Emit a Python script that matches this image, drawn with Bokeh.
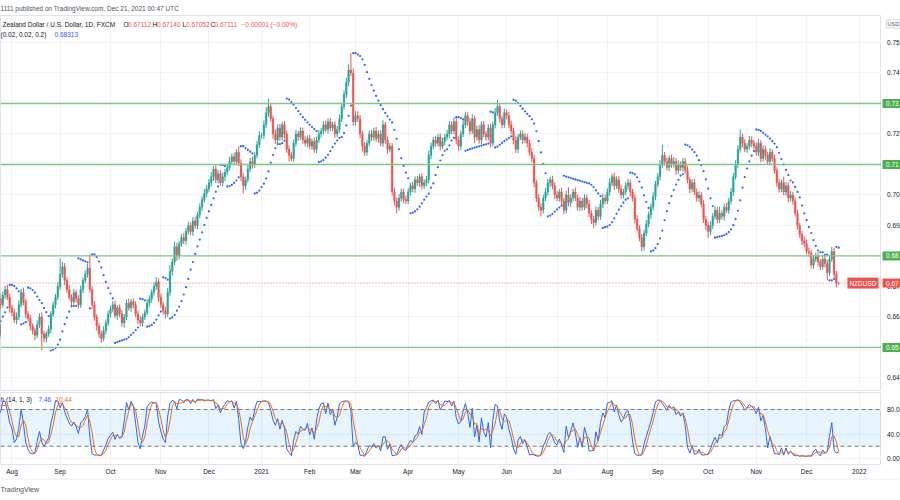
import numpy as np
import pandas as pd
from bokeh.plotting import figure
from bokeh.models import (Range1d, FixedTicker, Grid, Label, Span, BoxAnnotation,
                          ColumnDataSource)
from bokeh.core.properties import value
from bokeh.layouts import column, row
from bokeh.embed import file_html
from bokeh.resources import INLINE

# ---------------- data (NZD/USD daily, FXCM) ----------------
first_day = "2020-07-06"
last_day = "2021-12-21"
visible_first = "2020-08-03"

closes = [
    # Jul 2020
    0.6540, 0.6555, 0.6548, 0.6570, 0.6565, 0.6552, 0.6540, 0.6575, 0.6560, 0.6585,
    0.6610, 0.6640, 0.6625, 0.6650, 0.6660, 0.6640, 0.6672, 0.6690, 0.6665, 0.6630,
    # Aug 2020
    0.6615, 0.6590, 0.6600, 0.6640, 0.6680, 0.6650, 0.6610, 0.6595, 0.6570, 0.6555,
    0.6540, 0.6575, 0.6600, 0.6545, 0.6530, 0.6545, 0.6560, 0.6610, 0.6640, 0.6665, 0.6700,
    # Sep 2020
    0.6740, 0.6765, 0.6720, 0.6690, 0.6665, 0.6650, 0.6680, 0.6660, 0.6640, 0.6690,
    0.6720, 0.6740, 0.6760, 0.6690, 0.6640, 0.6600, 0.6570, 0.6545, 0.6530, 0.6555, 0.6580, 0.6610,
    # Oct 2020
    0.6625, 0.6640, 0.6605, 0.6630, 0.6610, 0.6580, 0.6600, 0.6645, 0.6630, 0.6650,
    0.6640, 0.6610, 0.6590, 0.6580, 0.6600, 0.6615, 0.6645, 0.6660, 0.6680, 0.6700, 0.6715, 0.6665,
    # Nov 2020
    0.6640, 0.6620, 0.6610, 0.6680, 0.6750, 0.6780, 0.6830, 0.6800, 0.6840, 0.6860,
    0.6850, 0.6880, 0.6900, 0.6880, 0.6915, 0.6900, 0.6935, 0.6960, 0.6985, 0.7005, 0.7020,
    # Dec 2020
    0.7040, 0.7060, 0.7085, 0.7050, 0.7070, 0.7040, 0.7060, 0.7075, 0.7090, 0.7110,
    0.7125, 0.7110, 0.7140, 0.7105, 0.7060, 0.7030, 0.7050, 0.7085, 0.7110, 0.7100, 0.7130, 0.7165, 0.7195,
    # Jan 2021
    0.7195, 0.7230, 0.7270, 0.7290, 0.7250, 0.7200, 0.7180, 0.7220, 0.7190, 0.7230,
    0.7200, 0.7150, 0.7130, 0.7120, 0.7170, 0.7200, 0.7190, 0.7210, 0.7180, 0.7170, 0.7185,
    # Feb 2021
    0.7160, 0.7175, 0.7150, 0.7180, 0.7200, 0.7210, 0.7230, 0.7215, 0.7240, 0.7220,
    0.7230, 0.7200, 0.7215, 0.7250, 0.7290, 0.7330, 0.7370, 0.7410, 0.7400, 0.7240,
    # Mar 2021
    0.7260, 0.7250, 0.7200, 0.7160, 0.7140, 0.7170, 0.7200, 0.7190, 0.7210, 0.7185,
    0.7200, 0.7170, 0.7230, 0.7180, 0.7150, 0.7160, 0.7010, 0.6980, 0.6960, 0.6990, 0.7010, 0.6985, 0.6980,
    # Apr 2021
    0.7010, 0.7030, 0.7020, 0.7050, 0.7040, 0.7060, 0.7030, 0.7040, 0.7050, 0.7130,
    0.7160, 0.7180, 0.7170, 0.7190, 0.7160, 0.7175, 0.7190, 0.7200, 0.7230, 0.7210, 0.7240, 0.7180,
    # May 2021
    0.7160, 0.7200, 0.7230, 0.7260, 0.7240, 0.7210, 0.7250, 0.7190, 0.7215, 0.7180,
    0.7230, 0.7200, 0.7190, 0.7220, 0.7170, 0.7230, 0.7270, 0.7290, 0.7250, 0.7230, 0.7270,
    # Jun 2021
    0.7260, 0.7230, 0.7210, 0.7180, 0.7150, 0.7190, 0.7200, 0.7180, 0.7190, 0.7170,
    0.7140, 0.7120, 0.7040, 0.6990, 0.6960, 0.6950, 0.6990, 0.7010, 0.7040, 0.7050, 0.7030, 0.7000,
    # Jul 2021
    0.6990, 0.7010, 0.6980, 0.6950, 0.7000, 0.6975, 0.6990, 0.7010, 0.6990, 0.6960,
    0.6980, 0.6960, 0.6990, 0.6970, 0.6940, 0.6920, 0.6910, 0.6950, 0.6930, 0.6970, 0.6990, 0.6980,
    # Aug 2021
    0.7010, 0.7040, 0.7060, 0.7030, 0.7050, 0.7020, 0.7000, 0.7010, 0.7030, 0.7040,
    0.7010, 0.6990, 0.6920, 0.6890, 0.6860, 0.6830, 0.6875, 0.6905, 0.6935, 0.6960, 0.6995, 0.7035,
    # Sep 2021
    0.7060, 0.7100, 0.7130, 0.7110, 0.7090, 0.7120, 0.7100, 0.7110, 0.7080, 0.7100,
    0.7090, 0.7110, 0.7080, 0.7050, 0.7020, 0.7040, 0.7010, 0.6990, 0.7000, 0.6970, 0.6920, 0.6900,
    # Oct 2021
    0.6880, 0.6900, 0.6930, 0.6950, 0.6920, 0.6940, 0.6930, 0.6960, 0.6950, 0.6980,
    0.7010, 0.7060, 0.7100, 0.7150, 0.7190, 0.7170, 0.7150, 0.7160, 0.7180, 0.7170, 0.7160,
    # Nov 2021
    0.7140, 0.7170, 0.7120, 0.7150, 0.7130, 0.7110, 0.7140, 0.7120, 0.7080, 0.7040,
    0.7020, 0.7040, 0.7010, 0.7030, 0.6990, 0.7000, 0.6980, 0.6940, 0.6900, 0.6870, 0.6850, 0.6840,
    # Dec 2021
    0.6815, 0.6810, 0.6770, 0.6790, 0.6800, 0.6780, 0.6765, 0.6790, 0.6775, 0.6745,
    0.6790, 0.6815, 0.6740, 0.67113, 0.67111,
]

# wick length beyond the candle body, in pips
wick_up_pips = [
    12, 10, 15, 8, 14, 10, 12, 9, 16, 11, 10, 13, 12, 9, 14, 18, 10, 12, 15, 11,
    10, 12, 15, 14, 12, 16, 8, 10, 12, 9, 10, 14, 12, 15, 10, 8, 12, 9, 11, 10, 14,
    52, 15, 12, 10, 14, 9, 12, 10, 11, 13, 10, 12, 15, 45, 10, 12, 9, 11, 10, 14, 12, 10,
    10, 12, 14, 9, 11, 13, 10, 12, 15, 9, 10, 12, 11, 14, 10, 9, 12, 11, 10, 13, 15, 12,
    12, 10, 14, 15, 20, 12, 18, 14, 10, 12, 15, 11, 13, 10, 12, 14, 10, 12, 11, 15, 12,
    12, 15, 10, 14, 12, 11, 13, 10, 12, 15, 11, 14, 10, 20, 12, 11, 10, 13, 12, 15, 10, 12, 14,
    8, 14, 18, 26, 12, 10, 15, 12, 14, 10, 12, 11, 13, 10, 12, 14, 10, 12, 11, 13, 10,
    12, 10, 14, 11, 13, 10, 12, 14, 11, 13, 10, 12, 11, 14, 12, 13, 15, 18, 55, 15,
    15, 14, 12, 10, 13, 11, 12, 14, 10, 13, 11, 12, 15, 10, 12, 11, 10, 14, 12, 13, 11, 10, 12,
    12, 10, 14, 11, 13, 10, 12, 11, 13, 15, 12, 10, 14, 11, 12, 13, 10, 14, 12, 11, 15, 12,
    12, 10, 14, 13, 11, 12, 15, 10, 12, 14, 11, 13, 10, 12, 14, 11, 15, 22, 12, 10, 13,
    10, 12, 14, 11, 13, 10, 12, 11, 13, 10, 12, 14, 11, 10, 13, 12, 11, 14, 12, 10, 13, 11,
    12, 10, 14, 11, 13, 25, 12, 10, 14, 11, 13, 10, 12, 11, 14, 10, 12, 13, 11, 14, 15, 12,
    12, 14, 10, 13, 11, 12, 14, 10, 12, 13, 11, 10, 12, 14, 10, 12, 11, 13, 10, 12, 14, 11,
    12, 14, 35, 11, 13, 10, 12, 14, 11, 13, 10, 12, 11, 14, 10, 12, 13, 11, 12, 10, 13, 11,
    12, 14, 10, 13, 11, 22, 10, 12, 14, 11, 13, 12, 14, 12, 25, 11, 13, 10, 14, 12, 11,
    12, 14, 10, 13, 11, 12, 14, 10, 12, 11, 13, 10, 20, 12, 11, 13, 10, 12, 11, 10, 12, 14,
    14, 12, 10, 13, 11, 12, 10, 14, 11, 12, 13, 15, 12, 11, 3,
]
wick_dn_pips = [
    10, 14, 9, 12, 8, 15, 11, 13, 10, 9, 12, 8, 14, 10, 11, 12, 9, 13, 10, 16,
    12, 10, 14, 11, 9, 12, 15, 10, 13, 12, 16, 10, 11, 55, 12, 14, 10, 13, 9, 12, 10,
    10, 12, 15, 11, 9, 14, 10, 13, 12, 10, 12, 9, 11, 10, 14, 12, 15, 13, 15, 10, 12, 9,
    12, 10, 9, 14, 11, 12, 15, 10, 9, 13, 12, 10, 14, 11, 12, 10, 9, 12, 13, 10, 11, 15,
    10, 12, 15, 10, 12, 14, 10, 16, 12, 10, 11, 13, 10, 12, 14, 10, 12, 11, 13, 10, 12,
    10, 12, 14, 11, 13, 10, 12, 14, 11, 10, 12, 13, 11, 10, 15, 25, 12, 10, 11, 13, 12, 10, 11,
    10, 12, 11, 14, 10, 15, 13, 10, 12, 11, 14, 12, 20, 10, 12, 11, 13, 10, 12, 11, 14,
    10, 12, 11, 13, 10, 12, 11, 10, 14, 12, 11, 13, 10, 12, 11, 10, 12, 14, 10, 12,
    12, 10, 14, 18, 12, 11, 10, 13, 12, 11, 14, 10, 12, 13, 15, 10, 12, 14, 20, 11, 12, 13, 10,
    10, 12, 11, 13, 10, 14, 12, 10, 11, 12, 13, 10, 12, 11, 14, 10, 12, 11, 13, 10, 12, 14,
    15, 12, 10, 11, 13, 12, 10, 20, 11, 12, 13, 10, 12, 11, 14, 10, 12, 11, 13, 12, 10,
    12, 10, 11, 14, 12, 13, 10, 12, 11, 14, 10, 12, 15, 13, 12, 20, 11, 10, 12, 14, 11, 13,
    10, 12, 11, 13, 10, 12, 14, 11, 10, 12, 13, 11, 10, 14, 12, 15, 18, 10, 12, 11, 13, 10,
    10, 12, 11, 14, 10, 13, 12, 11, 10, 12, 14, 11, 13, 10, 12, 15, 12, 10, 11, 13, 10, 12,
    10, 12, 11, 13, 10, 12, 11, 10, 14, 12, 11, 13, 10, 12, 14, 11, 10, 12, 13, 11, 12, 15,
    20, 12, 11, 10, 13, 12, 11, 14, 10, 12, 11, 13, 10, 12, 11, 14, 10, 12, 11, 13, 10,
    10, 12, 13, 11, 14, 10, 12, 11, 10, 13, 12, 11, 10, 12, 14, 11, 12, 10, 13, 11, 14, 12,
    10, 12, 11, 13, 10, 12, 11, 10, 12, 25, 11, 10, 12, 14, 6,
]

horizontal_levels = [0.73, 0.71, 0.68, 0.65]
last_price = 0.67111
price_ticks = [0.64, 0.65, 0.66, 0.67, 0.68, 0.69, 0.70, 0.71, 0.72, 0.73, 0.74, 0.75]
stoch_ticks = [0, 40, 80]
stoch_tick_labels = ["0.00", "40.0", "80.0"]
month_tick_labels = ["Aug", "Sep", "Oct", "Nov", "Dec", "2021", "Feb", "Mar", "Apr",
                     "May", "Jun", "Jul", "Aug", "Sep", "Oct", "Nov", "Dec", "2022"]

# ---------------- derived series ----------------
dates = pd.bdate_range(first_day, last_day)
assert len(dates) == len(closes) == len(wick_up_pips) == len(wick_dn_pips), (
    len(dates), len(closes), len(wick_up_pips), len(wick_dn_pips))
offset = int((dates < pd.Timestamp(visible_first)).sum())
xs = np.arange(len(dates)) - offset
close = np.array(closes)
open_ = np.concatenate([[close[0] - 0.0010], close[:-1]])
body_hi = np.maximum(open_, close)
body_lo = np.minimum(open_, close)
high = body_hi + np.array(wick_up_pips) * 0.0001
low = body_lo - np.array(wick_dn_pips) * 0.0001


def parabolic_sar(h, l, start=0.02, inc=0.02, mx=0.2):
    n = len(h)
    out = np.zeros(n)
    up = True
    af = start
    ep = h[0]
    sar = l[0]
    out[0] = sar
    for i in range(1, n):
        sar = sar + af * (ep - sar)
        if up:
            sar = min(sar, l[i - 1], l[max(i - 2, 0)])
            if l[i] < sar:
                up, sar, ep, af = False, ep, l[i], start
            elif h[i] > ep:
                ep, af = h[i], min(af + inc, mx)
        else:
            sar = max(sar, h[i - 1], h[max(i - 2, 0)])
            if h[i] > sar:
                up, sar, ep, af = True, ep, h[i], start
            elif l[i] < ep:
                ep, af = l[i], min(af + inc, mx)
        out[i] = sar
    return out


sar = parabolic_sar(high, low)
hh = pd.Series(high).rolling(14).max()
ll = pd.Series(low).rolling(14).min()
k_line = 100 * (pd.Series(close) - ll) / (hh - ll)
d_line = k_line.rolling(3).mean()

all_days = pd.bdate_range(first_day, "2022-01-31")
all_pos = np.arange(len(all_days)) - offset
new_month = np.r_[False, all_days.month[1:] != all_days.month[:-1]]
month_pos = [int(v) for v in all_pos[new_month]]
assert len(month_pos) == len(month_tick_labels)

UP = "#26a69a"
DN = "#ef5350"
GREEN_BOX = "#4caf50"
FONT = "Liberation Sans"
FS = "6.5px"
GRID = "#f0f3fa"
BORDER = "#e0e3eb"
TXT = "#131722"
SUB = "#50535e"

PANE_W = 881
SCALE_W = 19
x_range = Range1d(-5.02, 379.7)
price_range = Range1d(0.63556, 0.75885)
stoch_range = Range1d(-9.8, 107.8)


def bare(width, height, xr, yr, **kw):
    f = figure(width=width, height=height, output_backend="svg", toolbar_location=None,
               x_range=xr, y_range=yr, x_axis_location=None, y_axis_location=None,
               min_border_left=0, min_border_right=0, min_border_top=0, min_border_bottom=0,
               background_fill_color="white", border_fill_color="white",
               outline_line_color=None, **kw)
    f.grid.visible = False
    return f


def lab(fig, x, y, text, color, size=FS, **kw):
    fig.add_layout(Label(x=x, y=y, x_units="screen", text=text, text_font=FONT,
                         text_font_size=size, text_color=color, text_baseline="middle", **kw))


# ---------------- header strip ----------------
header = bare(900, 15, Range1d(0, 900), Range1d(0, 15))
header.add_layout(Label(x=0, y=7.5, text="1111 published on TradingView.com, Dec 21, 2021 00:47 UTC",
                        text_font=FONT, text_font_size=FS, text_color=SUB, text_baseline="middle"))

# ---------------- main price pane ----------------
p = bare(PANE_W, 376, x_range, price_range)
p.outline_line_color = BORDER
p.add_layout(Grid(dimension=0, ticker=FixedTicker(ticks=month_pos), grid_line_color=GRID))
p.add_layout(Grid(dimension=1, ticker=FixedTicker(ticks=price_ticks), grid_line_color=GRID))

for lvl in horizontal_levels:
    p.add_layout(Span(location=lvl, dimension="width", line_color="#81c784", line_width=1.3))
p.add_layout(Span(location=last_price, dimension="width", line_color=DN,
                  line_dash="1 2", line_width=1, line_alpha=0.8))

up_mask = close >= open_
for mask, col in ((up_mask, UP), (~up_mask, DN)):
    src = ColumnDataSource(dict(x=xs[mask], hi=high[mask], lo=low[mask],
                                top=body_hi[mask], bot=body_lo[mask]))
    p.segment(x0="x", y0="hi", x1="x", y1="lo", source=src, line_color=col, line_width=1)
    p.vbar(x="x", width=0.78, top="top", bottom="bot", source=src,
           fill_color=col, line_color=col, line_width=0.3)

sar_src = ColumnDataSource(dict(x=xs, y=sar))
p.scatter(x="x", y="y", source=sar_src, size=2.2, fill_color="#2962ff",
          line_color=None, marker="circle")

p.add_layout(Label(x=x_range.end, y=last_price, text="NZDUSD", text_font=FONT, text_font_size=FS,
                   text_color="white", background_fill_color=DN,
                   text_baseline="middle", text_align="right", x_offset=-3, padding=2))

lab(p, 2, 0.75590, "Zealand Dollar / U.S. Dollar, 1D, FXCM", TXT)
lab(p, 123, 0.75590, "O", TXT)
lab(p, 127.5, 0.75590, "0.67112", DN)
lab(p, 152, 0.75590, "H", TXT)
lab(p, 156.5, 0.75590, "0.67140", DN)
lab(p, 182, 0.75590, "L", TXT)
lab(p, 185.5, 0.75590, "0.67052", DN)
lab(p, 210, 0.75590, "C", TXT)
lab(p, 214, 0.75590, "0.67111", DN)
lab(p, 241, 0.75590, "\u22120.00001 (\u22120.00%)", DN)
lab(p, 0, 0.75262, "(0.02, 0.02, 0.2)", TXT)
lab(p, 54, 0.75262, "0.68313", "#2962ff")

# ---------------- price scale ----------------
ps = bare(SCALE_W, 376, Range1d(0, SCALE_W), price_range)
ps.text(x=[5.5] * len(price_ticks), y=price_ticks, text=[f"{t:.2f}" for t in price_ticks],
        text_font=value(FONT), text_font_size=FS, text_color=TXT,
        text_baseline="middle", text_align="left")
ps.rect(x=[10.5] * len(horizontal_levels), y=horizontal_levels, width=19, height=9,
        height_units="screen", fill_color=GREEN_BOX, line_color=None)
ps.text(x=[4.5] * len(horizontal_levels), y=horizontal_levels,
        text=[f"{t:.2f}" for t in horizontal_levels],
        text_font=value(FONT), text_font_size=FS, text_color="white",
        text_baseline="middle", text_align="left")
ps.rect(x=[10.5], y=[last_price], width=19, height=9, height_units="screen",
        fill_color=DN, line_color=None)
ps.text(x=[4.5], y=[last_price], text=[f"{last_price:.2f}"], text_font=value(FONT),
        text_font_size=FS, text_color="white", text_baseline="middle", text_align="left")
ps.add_layout(Label(x=5, y=0.75607, x_units="screen", text="USD", text_font=FONT,
                    text_font_size="5.5px", text_color=SUB, background_fill_color="white",
                    border_line_color="#d1d4dc", text_baseline="middle", padding=1))

# ---------------- stochastic pane ----------------
s = figure(width=PANE_W, height=87, output_backend="svg", toolbar_location=None,
           x_range=x_range, y_range=stoch_range, y_axis_location=None,
           min_border_left=0, min_border_right=0, min_border_top=1, min_border_bottom=14,
           background_fill_color="white", border_fill_color="white",
           outline_line_color=BORDER)
s.grid.visible = False
s.add_layout(Grid(dimension=0, ticker=FixedTicker(ticks=month_pos), grid_line_color=GRID))
s.add_layout(Grid(dimension=1, ticker=FixedTicker(ticks=stoch_ticks), grid_line_color=GRID))
s.add_layout(BoxAnnotation(bottom=20, top=80, fill_color="#2196f3", fill_alpha=0.1,
                           line_color=None))
for lv in (20, 80):
    s.add_layout(Span(location=lv, dimension="width", line_color="#787b86",
                      line_dash="4 3", line_width=1))
st_src = ColumnDataSource(dict(x=xs, k=k_line.values, d=d_line.values))
s.line(x="x", y="k", source=st_src, line_color="#2962ff", line_width=1)
s.line(x="x", y="d", source=st_src, line_color="#ff6d00", line_width=1)

sx = s.xaxis[0]
sx.ticker = FixedTicker(ticks=month_pos)
sx.major_label_overrides = {t: l for t, l in zip(month_pos, month_tick_labels)}
sx.major_label_text_font_size = FS
sx.major_label_text_font = FONT
sx.major_label_text_color = TXT
sx.major_tick_out = 0
sx.major_tick_in = 0
sx.minor_tick_out = 0
sx.minor_tick_in = 0
sx.axis_line_color = None
sx.major_label_standoff = 3

lab(s, 0, 96.3, "h (14, 1, 3)", TXT)
lab(s, 38, 96.3, "7.46", "#2962ff")
lab(s, 55, 96.3, "10.44", "#ff6d00")

ss = figure(width=SCALE_W, height=87, output_backend="svg", toolbar_location=None,
            x_range=Range1d(0, SCALE_W), y_range=stoch_range,
            x_axis_location=None, y_axis_location=None,
            min_border_left=0, min_border_right=0, min_border_top=1, min_border_bottom=14,
            background_fill_color="white", border_fill_color="white", outline_line_color=None)
ss.grid.visible = False
ss.text(x=[5.5] * len(stoch_ticks), y=stoch_ticks, text=stoch_tick_labels,
        text_font=value(FONT), text_font_size=FS, text_color=TXT,
        text_baseline="middle", text_align="left")

# ---------------- footer strip ----------------
footer = bare(900, 22, Range1d(0, 900), Range1d(0, 22))
footer.add_layout(Span(location=21.6, dimension="width", line_color=BORDER, line_width=1))
footer.add_layout(Label(x=0, y=11, text="TradingView", text_font=FONT, text_font_size="7px",
                        text_color=SUB, text_baseline="middle"))

layout = column(header, row(p, ps, spacing=0), row(s, ss, spacing=0), footer, spacing=0)
open("out.html", "w").write(file_html(layout, INLINE))
